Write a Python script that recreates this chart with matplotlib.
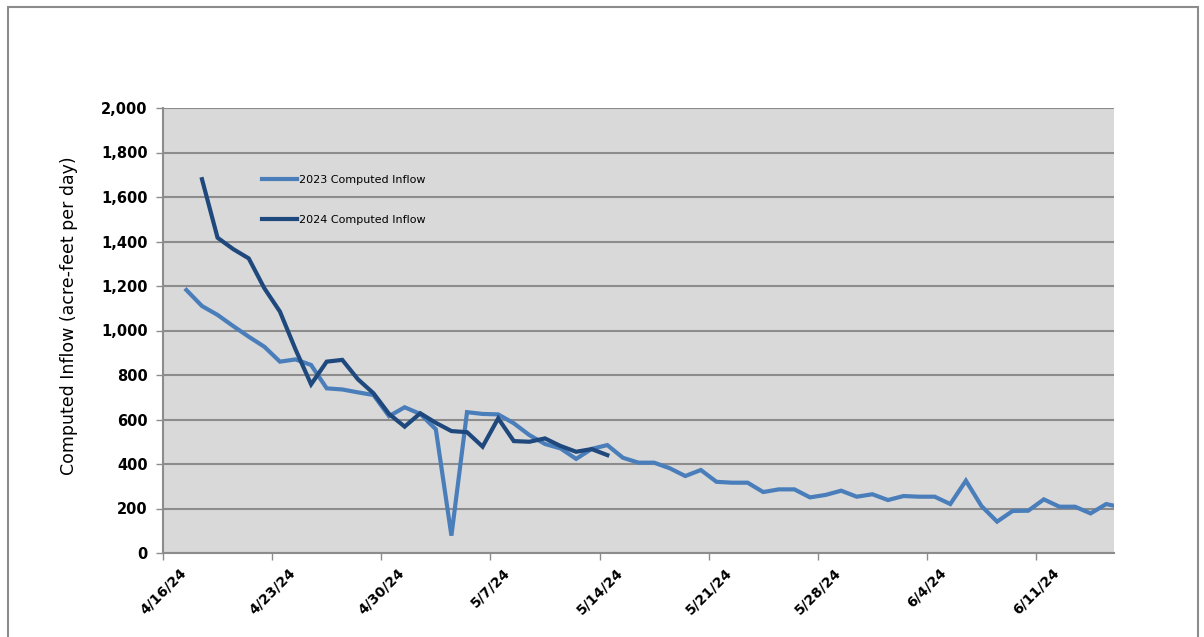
import numpy as np
import pandas as pd
import matplotlib
matplotlib.use("Agg")
import matplotlib.pyplot as plt
from matplotlib.patches import Rectangle

# daily computed inflow (acre-feet per day); 2023 values plotted on 2024 calendar
dates_2023 = pd.date_range("2024-04-17", periods=61, freq="D")
inflow_2023 = [1182, 1110, 1070, 1020, 972, 927, 860, 870, 845, 740,
               735, 722, 710, 615, 655, 625, 556, 78, 633, 625,
               623, 583, 530, 490, 470, 423, 468, 485, 428, 406,
               406, 381, 346, 373, 320, 316, 316, 274, 286, 286,
               250, 261, 280, 253, 264, 238, 256, 253, 253, 220,
               325, 211, 141, 189, 190, 241, 208, 208, 178, 220,
               205]

dates_2024 = pd.date_range("2024-04-18", periods=27, freq="D")
inflow_2024 = [1680, 1417, 1366, 1324, 1190, 1085, 915, 758, 860, 868,
               781, 718, 625, 568, 628, 585, 548, 543, 478, 605,
               503, 500, 515, 481, 455, 467, 440]

tick_dates = pd.date_range("2024-04-16", "2024-06-11", freq="7D")
y_ticks = np.arange(0, 2001, 200)

light_blue = "#4A7EBB"
dark_blue = "#1F497D"
half_day = pd.Timedelta(hours=12)

fig = plt.figure(figsize=(12.04, 6.37), dpi=100)
fig.patches.append(Rectangle((8 / 1204, -0.05), 1190 / 1204, 1.05 - 7 / 637,
                             transform=fig.transFigure, fill=False,
                             edgecolor="#8c8c8c", linewidth=1.5))
ax = fig.add_axes([163 / 1204, 84 / 637, 951 / 1204, 445 / 637])
ax.set_facecolor("#D9D9D9")

# Excel places points between tick marks -> shift by half a day
ax.plot(dates_2023 + half_day, inflow_2023, color=light_blue, lw=3,
        label="2023 Computed Inflow", solid_joinstyle="miter")
ax.plot(dates_2024 + half_day, inflow_2024, color=dark_blue, lw=3,
        label="2024 Computed Inflow", solid_joinstyle="miter")

ax.set_xlim(pd.Timestamp("2024-04-16"), pd.Timestamp("2024-06-16"))
ax.set_ylim(0, 2000)
ax.set_yticks(y_ticks)
ax.set_yticklabels([f"{v:,}" for v in y_ticks], fontweight="bold", fontsize=10.5)
ax.set_xticks(tick_dates)
ax.set_xticklabels([f"{d.month}/{d.day}/{d:%y}" for d in tick_dates],
                   rotation=45, fontweight="bold", fontsize=10)

ax.grid(axis="y", color="#8c8c8c", linewidth=1.5)
ax.set_axisbelow(True)
for side in ("top", "right"):
    ax.spines[side].set_visible(False)
for side in ("left", "bottom"):
    ax.spines[side].set_color("#8c8c8c")
    ax.spines[side].set_linewidth(1.5)
ax.tick_params(axis="both", color="#8c8c8c", length=5, width=1)
ax.tick_params(axis="y", pad=6)
ax.tick_params(axis="x", pad=4)

ax.set_ylabel("Computed Inflow (acre-feet per day)", fontsize=12.5)
ax.yaxis.set_label_coords(-0.0895, 0.533)

ax.legend(loc="upper left", bbox_to_anchor=(0.104, 0.849), frameon=False,
          fontsize=8, handlelength=3.2, handletextpad=0.15, labelspacing=2.7,
          borderpad=0, borderaxespad=0)

fig.savefig("out.png", dpi=100)
